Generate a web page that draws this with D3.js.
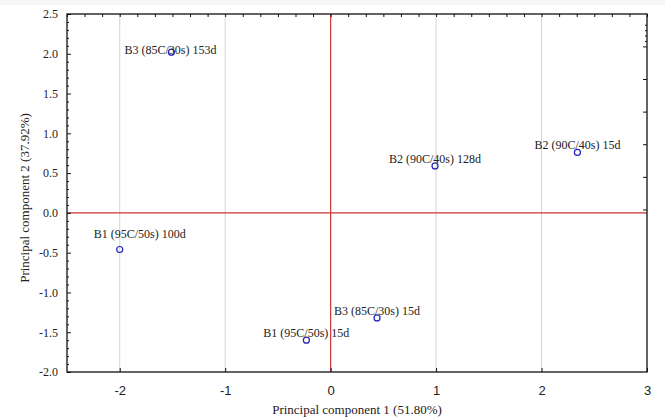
<!DOCTYPE html>
<html>
<head>
<meta charset="utf-8">
<script src="https://cdn.jsdelivr.net/npm/d3@7"></script>
<style>
  html, body { margin: 0; padding: 0; background: #ffffff; }
  svg { display: block; }
</style>
</head>
<body>
<svg id="chart" width="665" height="420"></svg>
<script>
// ---- data ----
const labels = ["B3 (85C/30s) 153d", "B1 (95C/50s) 100d", "B2 (90C/40s) 128d",
                "B2 (90C/40s) 15d", "B3 (85C/30s) 15d", "B1 (95C/50s) 15d"];
const pc1 = [-1.51, -2.00, 0.99, 2.34, 0.44, -0.23];
const pc2 = [2.02, -0.46, 0.59, 0.76, -1.32, -1.60];
const xTicks = [-2, -1, 0, 1, 2, 3];
const yTicks = [-2.0, -1.5, -1.0, -0.5, 0.0, 0.5, 1.0, 1.5, 2.0, 2.5];
const xTitle = "Principal component 1 (51.80%)";
const yTitle = "Principal component 2 (37.92%)";

// ---- layout ----
const svg = d3.select("#chart");
const L = 67, R = 647, T = 14, B = 372;
const x = d3.scaleLinear().domain([-2.5, 3]).range([L, R]);
const y = d3.scaleLinear().domain([-2.0, 2.5]).range([B, T]);

const serif = "'Liberation Serif', 'Times New Roman', serif";
const sans = "'Liberation Sans', Arial, sans-serif";
const hyph = f => (d => f(d).replace("\u2212", "-"));

// faint top band
svg.append("rect").attr("x", 0).attr("y", 0).attr("width", 665).attr("height", 5).attr("fill", "#f6f6f6");

// vertical grid lines
svg.append("g").selectAll("line").data(xTicks.filter(d => d !== 0 && d !== 3)).join("line")
  .attr("x1", d => x(d)).attr("x2", d => x(d)).attr("y1", T).attr("y2", B)
  .attr("stroke", "#d4d4d4").attr("stroke-width", 1);

// red zero lines
svg.append("line").attr("x1", x(0)).attr("x2", x(0)).attr("y1", T).attr("y2", B)
  .attr("stroke", "#cc3333").attr("stroke-width", 1.2);
svg.append("line").attr("x1", L).attr("x2", R).attr("y1", y(0)).attr("y2", y(0))
  .attr("stroke", "#cc3333").attr("stroke-width", 1.2);

// axes (ticks inward)
const gLeft = svg.append("g").attr("transform", `translate(${L},0)`)
  .call(d3.axisLeft(y).tickValues(yTicks).tickSize(-4).tickPadding(9).tickFormat(hyph(d3.format(".1f"))));
gLeft.select(".domain").remove();
gLeft.selectAll("text").attr("font-family", serif).attr("font-size", 12).attr("fill", "#222");

const yMinor = d3.range(-20, 26).map(i => i / 10).filter(v => Math.abs(v * 2 - Math.round(v * 2)) > 1e-6);
svg.append("g").attr("transform", `translate(${L},0)`)
  .call(d3.axisLeft(y).tickValues(yMinor).tickSize(-2).tickFormat(""))
  .select(".domain").remove();

const gBottom = svg.append("g").attr("transform", `translate(0,${B})`)
  .call(d3.axisBottom(x).tickValues(xTicks).tickSize(-4).tickPadding(14).tickFormat(hyph(d3.format("d"))));
gBottom.select(".domain").remove();
gBottom.selectAll("text").attr("font-family", sans).attr("font-size", 13).attr("fill", "#222");

const topMinor = d3.range(-15, 19).map(i => i / 6);
svg.append("g").attr("transform", `translate(0,${T})`)
  .call(d3.axisTop(x).tickValues(topMinor).tickSize(-3).tickFormat(""))
  .select(".domain").remove();

const rightTicks = d3.range(-4, 2).map(i => 1.683 + i * 0.41);
svg.append("g").attr("transform", `translate(${R},0)`)
  .call(d3.axisRight(y).tickValues(rightTicks).tickSize(-4).tickFormat(""))
  .select(".domain").remove();
const rightMinor = d3.range(1, 5).map(i => 2.093 + i * 0.068);
svg.append("g").attr("transform", `translate(${R},0)`)
  .call(d3.axisRight(y).tickValues(rightMinor).tickSize(-2).tickFormat(""))
  .select(".domain").remove();

svg.selectAll(".tick line").attr("stroke", "#111");

// frame
svg.append("rect").attr("x", L).attr("y", T).attr("width", R - L).attr("height", B - T)
  .attr("fill", "none").attr("stroke", "#111").attr("stroke-width", 1.3);

// points
const pts = labels.map((l, i) => ({ label: l, px: pc1[i], py: pc2[i] }));
svg.append("g").selectAll("circle").data(pts).join("circle")
  .attr("cx", d => x(d.px)).attr("cy", d => y(d.py)).attr("r", 3)
  .attr("fill", "none").attr("stroke", "#2222bb").attr("stroke-width", 1.2);

// point labels (default: centred just above the marker)
const labelShift = { "B1 (95C/50s) 100d": [20, -11], "B3 (85C/30s) 153d": [-1, 2] };
svg.append("g").selectAll("text").data(pts).join("text")
  .attr("x", d => x(d.px) + (labelShift[d.label] ? labelShift[d.label][0] : 0))
  .attr("y", d => y(d.py) + (labelShift[d.label] ? labelShift[d.label][1] : -3))
  .attr("text-anchor", "middle")
  .attr("font-family", serif).attr("font-size", 12).attr("fill", "#222")
  .text(d => d.label);

// axis titles
svg.append("text").attr("x", (L + R) / 2).attr("y", 414).attr("text-anchor", "middle")
  .attr("font-family", serif).attr("font-size", 13).attr("fill", "#222").text(xTitle);
svg.append("text").attr("transform", `translate(29,198) rotate(-90)`).attr("text-anchor", "middle")
  .attr("font-family", serif).attr("font-size", 13).attr("fill", "#222").text(yTitle);
</script>
</body>
</html>
